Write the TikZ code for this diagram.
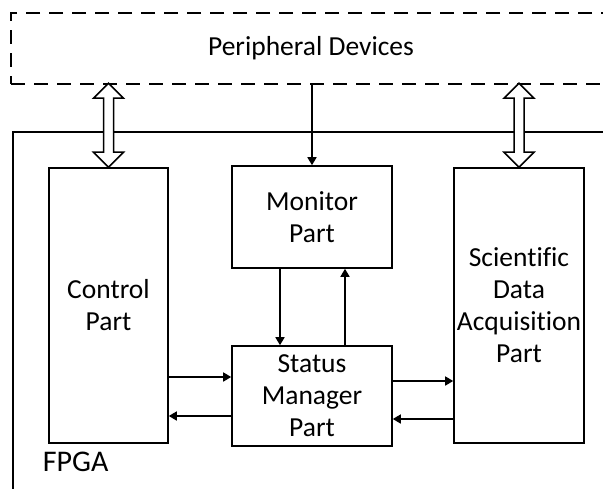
\documentclass[tikz,border=0pt]{standalone}
\usepackage{fontspec}
\setmainfont[Ligatures=NoCommon]{Carlito}
\usetikzlibrary{arrows.meta}

\begin{document}
\begin{tikzpicture}[x=1pt, y=-1pt, line width=1.6pt,
    part/.style={draw, rectangle, align=center, inner sep=0pt, font=\fontsize{27.5}{32}\selectfont},
    link/.style={-{Triangle[length=8pt,width=9pt]}},
    bus/.style={draw, fill=white, line width=1.5pt}]
            \clip (0,0) rectangle (603,488);
            \node[part, dashed, dash pattern=on 14pt off 9pt, minimum width=600, minimum height=71] (periph) at (311,48.5) {Peripheral Devices};
            \node[draw, rectangle, minimum width=607, minimum height=380] (fpga) at (316.5,322) {};
            \node[font=\fontsize{30}{36}\selectfont, anchor=west, inner sep=0pt] (fpgalabel) at (42,462) {FPGA};

            \node[part, minimum width=119, minimum height=275] (ctrl) at (108.5,305.5) {Control\\Part};
            \node[part, minimum width=160, minimum height=102] (mon) at (312,217) {Monitor\\Part};
            \node[part, minimum width=160, minimum height=100] (stat) at (312,396) {Status\\Manager\\Part};
            \node[part, minimum width=130, minimum height=275] (sci) at (519,305.5) {Scientific\\Data\\Acquisition\\Part};

            \draw[link] (mon.north |- periph.south) -- (mon.north);
            \draw[link] (mon.south -| 280,0) -- (stat.north -| 280,0);
            \draw[link] (stat.north -| 345,0) -- (mon.south -| 345,0);
            \draw[link] (ctrl.east |- 0,377) -- (stat.west |- 0,377);
            \draw[link] (stat.west |- 0,416) -- (ctrl.east |- 0,416);
            \draw[link] (stat.east |- 0,381) -- (sci.west |- 0,381);
            \draw[link] (sci.west |- 0,419) -- (stat.east |- 0,419);

            \draw[bus] (ctrl.north) -- ++(-15,-15) -- ++(10,0) -- ++(0,-54) -- ++(-10,0) -- ++(15,-15)
                -- ++(15,15) -- ++(-10,0) -- ++(0,54) -- ++(10,0) -- cycle;
            \draw[bus] (sci.north) -- ++(-15,-15) -- ++(10,0) -- ++(0,-54) -- ++(-10,0) -- ++(15,-15)
                -- ++(15,15) -- ++(-10,0) -- ++(0,54) -- ++(10,0) -- cycle;
        \end{tikzpicture}
\end{document}
